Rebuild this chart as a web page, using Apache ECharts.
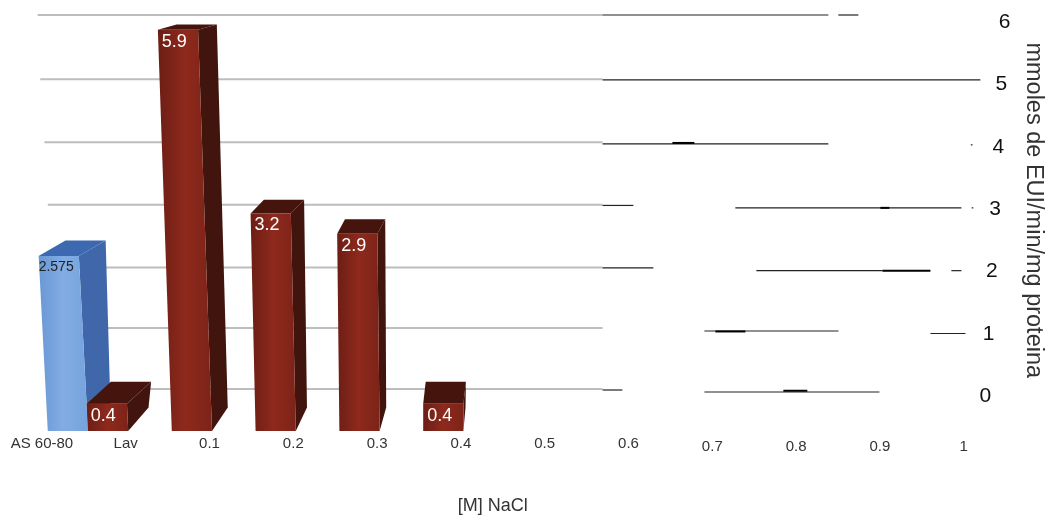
<!DOCTYPE html>
<html>
<head>
<meta charset="utf-8">
<style>html,body{margin:0;padding:0;background:#fff}#c{width:1052px;height:515px}</style>
<script src="https://cdn.jsdelivr.net/npm/echarts@6/dist/echarts.min.js"></script>
</head>
<body>
<div id="c"></div>
<script>
// Enzyme activity per NaCl fraction
const categories = ['AS 60-80', 'Lav', '0.1', '0.2', '0.3', '0.4', '0.5', '0.6', '0.7', '0.8', '0.9', '1'];
const blueValues = [2.575, null, null, null, null, null, null, null, null, null, null, null];
const redValues = [null, 0.4, 5.9, 3.2, 2.9, 0.4, null, null, null, null, null, null];
const wallLevels = [0, 1, 2, 3, 4, 5, 6];

// Back-wall rules as [from NaCl, to NaCl, level]
const grayRules = [
  [-0.105, 0.569, 6], [-0.102, 0.569, 4.97], [-0.097, 0.569, 3.96], [-0.093, 0.569, 2.96],
  [-0.087, 0.569, 1.955], [-0.084, 0.569, 0.985], [-0.08, 0.569, 0.01]
];
const thinRules = [
  [0.569, 0.8385, 6], [0.8504, 0.8743, 6],
  [0.569, 1.0199, 4.96],
  [0.569, 0.8385, 3.934], [1.0085, 1.0105, 3.92],
  [0.569, 0.6058, 2.949], [0.7275, 0.9973, 2.909], [1.0095, 1.0115, 2.91],
  [0.569, 0.6297, 1.947], [0.7526, 0.903, 1.904], [0.9853, 0.9973, 1.904],
  [0.6906, 0.8505, 0.9375], [0.9603, 1.0021, 0.897],
  [0.569, 0.5927, -0.008], [0.6906, 0.8994, -0.04]
];
const thickRules = [
  [0.6524, 0.6786, 3.95], [0.9006, 0.9113, 2.91], [0.903, 0.9603, 1.904],
  [0.7037, 0.7395, 0.93], [0.7848, 0.8134, -0.02]
];

const font = '"Liberation Sans", Arial, sans-serif';

function ruleRenderer(color, width) {
  return function (params, api) {
    const a = api.coord([api.value(0), api.value(2)]);
    const b = api.coord([api.value(1), api.value(2)]);
    return {
      type: 'line',
      shape: { x1: a[0], y1: a[1], x2: b[0], y2: b[1] },
      style: { stroke: color, lineWidth: width, fill: null }
    };
  };
}

function gradient(stops) {
  return new echarts.graphic.LinearGradient(0, 0, 1, 0,
    stops.map((c, i) => ({ offset: i / (stops.length - 1), color: c })));
}

// Bars are extruded by hand: the front face leans away from the vanishing
// point and the depth shrinks towards it.
function barRenderer(shift, palette, labelColor, labelFont, labelDx, labelDy) {
  return function (params, api) {
    const v = api.value(1);
    if (v == null || isNaN(v)) return null;
    const cat = api.value(0);
    const band = api.size([1, 0])[0];
    const base = api.coord([cat, 0]);
    const top = api.coord([cat, v]);
    const half = band * 0.24;
    const cx = base[0] + band * shift;
    const y0 = base[1], y1 = top[1];
    const lean = Math.max(0, (440 - cx) * 0.00014) * (y0 - y1);
    const dxTop = Math.max(2.5, (480 - cx) * 0.065);
    const dxBase = dxTop * 0.84;
    const dyTop = 4 + 0.045 * y1;
    const dyBase = 4 + 0.045 * y0;
    const fl = [cx - half - lean, y1], fr = [cx + half - lean, y1];
    const bl = [cx - half, y0], br = [cx + half, y0];
    const poly = (points, fill) => ({ type: 'polygon', shape: { points }, style: { fill } });
    return {
      type: 'group',
      children: [
        poly([fr, [fr[0] + dxTop, y1 - dyTop], [br[0] + dxBase, y0 - dyBase], br], palette.side),
        poly([fl, [fl[0] + dxTop, y1 - dyTop], [fr[0] + dxTop, y1 - dyTop], fr], palette.top),
        poly([fl, fr, br, bl], gradient(palette.front)),
        {
          type: 'text',
          style: {
            text: String(v), x: fl[0] + labelDx, y: y1 + labelDy,
            fill: labelColor, font: labelFont, verticalAlign: 'middle', align: 'left'
          }
        }
      ]
    };
  };
}

const tickRich = {};
wallLevels.forEach(l => {
  tickRich['t' + l] = { padding: [14, 0, 0, 3.2 * l], fontSize: 21, color: '#111', fontFamily: font };
});

const chart = echarts.init(document.getElementById('c'), null, { renderer: 'canvas' });
chart.setOption({
  animation: false,
  backgroundColor: '#fff',
  grid: [
    { left: 0, right: 46.4, top: 15, bottom: 125.5, outerBoundsMode: 'none' },
    { left: 0, right: 46.4, top: 23, bottom: 84, outerBoundsMode: 'none' }
  ],
  xAxis: [
    { type: 'value', gridIndex: 0, min: -0.15, max: 1.05, show: false },
    {
      type: 'category', gridIndex: 1, data: categories,
      axisLine: { show: false }, axisTick: { show: false },
      axisLabel: {
        interval: 0, margin: 5, hideOverlap: false,
        formatter: (v, i) => (i >= 8 ? '{low|' + v + '}' : '{high|' + v + '}'),
        rich: {
          high: { fontSize: 15, color: '#333', fontFamily: font },
          low: { fontSize: 15, color: '#333', fontFamily: font, padding: [3, 0, 0, 0] }
        }
      },
      name: '[M] NaCl', nameLocation: 'middle', nameGap: 66,
      nameTextStyle: { fontSize: 18, color: '#333', fontFamily: font, padding: [0, 20, 0, 0] }
    }
  ],
  yAxis: [
    {
      type: 'value', gridIndex: 0, position: 'right', min: 0, max: 6, interval: 1, offset: -30,
      axisLine: { show: false }, axisTick: { show: false }, splitLine: { show: false },
      axisLabel: {
        margin: 4, align: 'left', rich: tickRich,
        formatter: v => '{t' + v + '|' + v + '}'
      },
      name: 'mmoles de EUI/min/mg proteina', nameLocation: 'middle', nameRotate: -90, nameGap: 42,
      nameTextStyle: { fontSize: 23.5, color: '#333', fontFamily: font, padding: [0, 0, 0, 16] }
    },
    { type: 'value', gridIndex: 1, min: 0, max: 6, interval: 1, show: false }
  ],
  series: [
    { type: 'custom', xAxisIndex: 0, yAxisIndex: 0, data: grayRules, clip: false, z: 1, silent: true, renderItem: ruleRenderer('#bdbdbd', 2) },
    { type: 'custom', xAxisIndex: 0, yAxisIndex: 0, data: thinRules, clip: false, z: 2, silent: true, renderItem: ruleRenderer('#222', 1.2) },
    { type: 'custom', xAxisIndex: 0, yAxisIndex: 0, data: thickRules, clip: false, z: 2, silent: true, renderItem: ruleRenderer('#000', 2) },
    {
      type: 'custom', xAxisIndex: 1, yAxisIndex: 1, clip: false, z: 3,
      data: blueValues.map((v, i) => [i, v]),
      encode: { x: 0, y: 1 },
      renderItem: barRenderer(0.31,
        { side: '#3f67a9', top: '#3c69b0', front: ['#6a98d4', '#82ace3', '#76a3de'] },
        '#222', '14px ' + font, 0, 11)
    },
    {
      type: 'custom', xAxisIndex: 1, yAxisIndex: 1, clip: false, z: 4,
      data: redValues.map((v, i) => [i, v]),
      encode: { x: 0, y: 1 },
      renderItem: barRenderer(-0.21,
        { side: '#41140d', top: '#45150d', front: ['#6c1e14', '#8e291d', '#7d2318'] },
        '#fff', '18px ' + font, 4, 12)
    }
  ]
});
</script>
</body>
</html>
